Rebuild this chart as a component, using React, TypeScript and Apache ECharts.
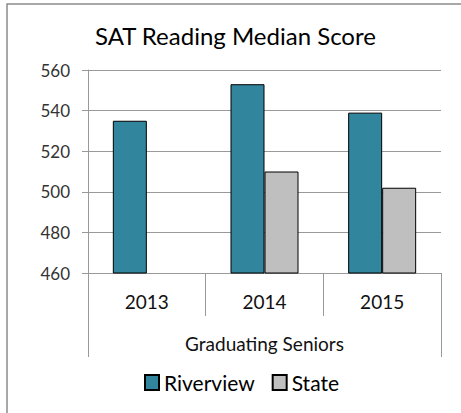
import React, { useEffect, useRef } from "react";
import * as echarts from "echarts";

const categories = ["2013", "2014", "2015"];
const groupLabel = ["Graduating Seniors"];
const riverview = [535, 553, 539];
const state: (number | null)[] = [null, 510, 502];
const seriesNames = ["Riverview", "State"];

const FONT = "Lato, 'Open Sans', sans-serif";

export default function App() {
  const ref = useRef<HTMLDivElement>(null);
  useEffect(() => {
    if (!ref.current) return;
    const chart = echarts.init(ref.current, undefined, { renderer: "svg" });
    chart.setOption({
      animation: false,
      backgroundColor: "#ffffff",
      textStyle: { fontFamily: FONT },
      title: {
        text: "SAT Reading Median Score",
        left: 90,
        top: 18,
        textStyle: { fontFamily: FONT, fontSize: 24, fontWeight: "normal", color: "#000" },
      },
      graphic: [
        {
          type: "rect",
          shape: { x: 7, y: 4, width: 480, height: 440 },
          style: { fill: "none", stroke: "#8c8c8c", lineWidth: 1.5 },
          silent: true,
        },
      ],
      legend: {
        left: 139,
        top: 367,
        itemWidth: 14,
        itemHeight: 15,
        itemGap: 17,
        icon: "rect",
        data: seriesNames,
        textStyle: { fontFamily: FONT, fontSize: 21, color: "#000" },
      },
      grid: { left: 88, right: 20, top: 70, bottom: 140 },
      xAxis: [
        {
          type: "category",
          data: categories,
          axisLine: { show: true, lineStyle: { color: "#999", width: 1 } },
          axisTick: { show: true, length: 43, lineStyle: { color: "#999" } },
          axisLabel: { margin: 19, fontFamily: FONT, fontSize: 19, color: "#111" },
        },
        {
          type: "category",
          data: groupLabel,
          position: "bottom",
          axisLine: { show: false },
          axisTick: { show: true, length: 84, lineStyle: { color: "#999" } },
          axisLabel: { margin: 61, fontFamily: FONT, fontSize: 19, color: "#111" },
        },
      ],
      yAxis: {
        type: "value",
        min: 460,
        max: 560,
        interval: 20,
        axisLine: { show: true, lineStyle: { color: "#999" } },
        axisTick: { show: true, length: 6, lineStyle: { color: "#999" } },
        splitLine: { show: true, lineStyle: { color: "#999" } },
        axisLabel: { margin: 18, fontFamily: FONT, fontSize: 17, color: "#333" },
      },
      series: [
        {
          name: seriesNames[0],
          type: "bar",
          xAxisIndex: 0,
          data: riverview,
          barWidth: 34,
          barGap: "0%",
          itemStyle: { color: "#31859c", borderColor: "#000", borderWidth: 1 },
        },
        {
          name: seriesNames[1],
          type: "bar",
          xAxisIndex: 0,
          data: state,
          barWidth: 34,
          barGap: "0%",
          itemStyle: { color: "#bfbfbf", borderColor: "#000", borderWidth: 1 },
        },
      ],
    });
    return () => chart.dispose();
  }, []);
  return (
    <div
      ref={ref}
      style={{ position: "fixed", left: 0, top: 0, width: 461, height: 413 }}
    />
  );
}
